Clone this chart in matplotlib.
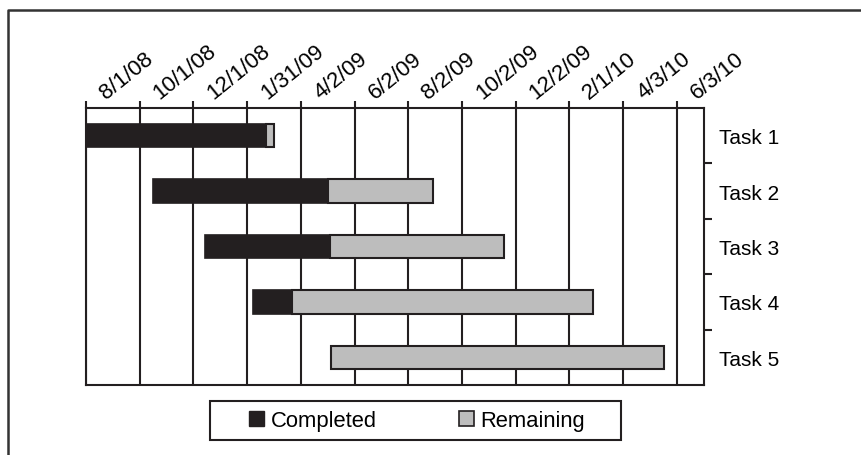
import datetime as dt

import matplotlib
matplotlib.use("Agg")
import matplotlib.pyplot as plt
import matplotlib.dates as mdates
import matplotlib.transforms as mtransforms
from matplotlib.lines import Line2D
from matplotlib.patches import Rectangle, Patch

plt.rcParams['font.family'] = ['Liberation Sans', 'DejaVu Sans']

# Données
tasks = ['Task 1', 'Task 2', 'Task 3', 'Task 4', 'Task 5']
starts = ['2008-08-01', '2008-10-16', '2008-12-14', '2009-02-07', '2009-05-06']
completed_days = [205, 199, 142, 44, 0]
remaining_days = [9, 119, 198, 342, 379]

tick_dates = ['2008-08-01', '2008-10-01', '2008-12-01', '2009-01-31', '2009-04-02',
              '2009-06-02', '2009-08-02', '2009-10-02', '2009-12-02', '2010-02-01',
              '2010-04-03', '2010-06-03']
tick_labels = ['8/1/08', '10/1/08', '12/1/08', '1/31/09', '4/2/09', '6/2/09',
               '8/2/09', '10/2/09', '12/2/09', '2/1/10', '4/3/10', '6/3/10']
x_min = '2008-08-01'
x_max = '2010-07-04'

dark = '#231f20'
grey = '#bdbdbd'

def to_num(s):
    return mdates.date2num(dt.datetime.strptime(s, '%Y-%m-%d'))

W, H = 861, 456
fig = plt.figure(figsize=(W / 100, H / 100), dpi=100)
ax = fig.add_axes([86 / W, 1 - 386 / H, (704 - 86) / W, (386 - 109) / H])

y = list(range(len(tasks)))
left = [to_num(s) for s in starts]
left_rem = [l + c for l, c in zip(left, completed_days)]

ax.barh(y, completed_days, left=left, height=0.42, color=dark,
        edgecolor=dark, linewidth=1.2, zorder=3)
ax.barh(y, remaining_days, left=left_rem, height=0.42, color=grey,
        edgecolor=dark, linewidth=1.5, zorder=3)

ax.set_xlim(to_num(x_min), to_num(x_max))
ax.set_ylim(len(tasks) - 0.5, -0.5)

# axe des dates en haut (étiquettes posées à la main, décalées à droite)
ax.xaxis.tick_top()
tick_pos = [to_num(d) for d in tick_dates]
ax.set_xticks(tick_pos)
ax.set_xticklabels([])
ax.tick_params(axis='x', which='major', direction='out', length=5, width=1.5,
               color=dark)
trans = mtransforms.blended_transform_factory(ax.transData, ax.transAxes) + \
    mtransforms.ScaledTranslation(20 / 100, 8.5 / 100, fig.dpi_scale_trans)
for xp, lab in zip(tick_pos, tick_labels):
    ax.text(xp, 1, lab, transform=trans, rotation=39, ha='left', va='baseline',
            rotation_mode='anchor', fontsize=16, clip_on=False)

ax.grid(axis='x', color=dark, linewidth=1.5)
ax.set_axisbelow(True)

# axe des tâches à droite
ax.yaxis.tick_right()
ax.set_yticks([i + 0.5 for i in y[:-1]])
ax.set_yticklabels([])
ax.set_yticks(y, minor=True)
ax.set_yticklabels(tasks, minor=True, fontsize=15)
ax.tick_params(axis='y', which='major', direction='out', length=6, width=1.5, color=dark)
ax.tick_params(axis='y', which='minor', length=0, pad=11)

for sp in ax.spines.values():
    sp.set_linewidth(1.5)
    sp.set_color(dark)

# légende
handles = [Patch(facecolor=dark, edgecolor=dark, label='Completed'),
           Patch(facecolor=grey, edgecolor=dark, linewidth=1.2, label='Remaining')]
fig.legend(handles=handles, loc='center', bbox_to_anchor=(417 / W, 1 - 421.5 / H),
           ncol=2, frameon=False, fontsize=15.8, handlelength=0.68, handleheight=0.68,
           handletextpad=0.3, columnspacing=3.75)
fig.patches.append(Rectangle((210 / W, 1 - 441 / H), 411 / W, 39 / H,
                             transform=fig.transFigure, fill=False,
                             edgecolor=dark, linewidth=1.5))

# cadre extérieur
fig.lines.append(Line2D([7.5 / W, 7.5 / W, 1], [0, 1 - 10.5 / H, 1 - 10.5 / H],
                        transform=fig.transFigure, color='#333333', linewidth=1.8))

fig.savefig('out.png', dpi=100)
